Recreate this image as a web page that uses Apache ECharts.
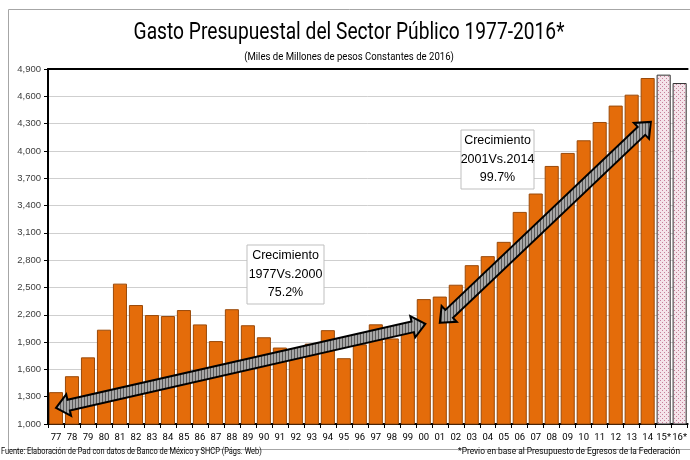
<!DOCTYPE html>
<html>
<head>
<meta charset="utf-8">
<script src="https://cdn.jsdelivr.net/npm/echarts@6/dist/echarts.min.js"></script>
<style>
  html, body { margin: 0; padding: 0; background: #fff; }
  #main { width: 690px; height: 460px; }
</style>
</head>
<body>
<div id="main"></div>
<script>
// años (últimos dos son estimados)
var years = ['77','78','79','80','81','82','83','84','85','86','87','88','89','90','91','92','93','94','95','96',
  '97','98','99','00','01','02','03','04','05','06','07','08','09','10','11','12','13','14','15*','16*'];
// miles de millones de pesos de 2016
var gasto = [1350,1525,1732,2036,2542,2307,2197,2186,2252,2094,1911,2261,2085,1953,1840,1780,1883,2031,1723,1875,
  2095,1940,2060,2372,2400,2530,2745,2844,3001,3330,3532,3835,3978,4117,4318,4498,4618,4801,4838,4746];
var previos = ['15*','16*'];
var yTicks = [1000, 4900, 300];

var textFont = 'Roboto, sans-serif';
var boxFont = '"Liberation Sans", Arial, sans-serif';

// patrón rosa para los años previstos
function dotPattern() {
  var c = document.createElement('canvas');
  c.width = 4; c.height = 4;
  var g = c.getContext('2d');
  g.fillStyle = '#f4e4ea'; g.fillRect(0, 0, 4, 4);
  g.fillStyle = '#c7809a';
  g.fillRect(0, 0, 1, 1); g.fillRect(2, 2, 1, 1);
  return c;
}
function stripePattern() {
  var c = document.createElement('canvas');
  c.width = 3; c.height = 3;
  var g = c.getContext('2d');
  g.fillStyle = '#a6a6a6'; g.fillRect(0, 0, 3, 3);
  g.fillStyle = '#5a5a5a'; g.fillRect(0, 0, 1, 3);
  return c;
}

var chart = echarts.init(document.getElementById('main'));

var barData = gasto.map(function (v, i) {
  if (previos.indexOf(years[i]) >= 0) {
    return { value: v, itemStyle: { color: { image: dotPattern(), repeat: 'repeat' }, borderColor: '#333', borderWidth: 1 } };
  }
  return v;
});

chart.setOption({
  animation: false,
  grid: { left: 48, right: 0, top: 69, bottom: 36 },
  xAxis: [{
    type: 'category',
    data: years,
    axisLine: { lineStyle: { color: '#000', width: 2 } },
    axisTick: { show: true, length: 4, lineStyle: { color: '#000' } },
    axisLabel: { color: '#000', fontSize: 9.5, fontFamily: textFont, margin: 9, interval: 0 }
  }, {
    type: 'category',
    position: 'top',
    data: years,
    axisLine: { lineStyle: { color: '#000', width: 2 } },
    axisTick: { show: false },
    axisLabel: { show: false }
  }],
  yAxis: {
    type: 'value',
    min: yTicks[0], max: yTicks[1], interval: yTicks[2],
    axisLine: { show: true, lineStyle: { color: '#000', width: 2 } },
    axisTick: { show: true, length: 4, lineStyle: { color: '#000' } },
    axisLabel: {
      color: '#404040', fontSize: 9.5, fontFamily: boxFont, margin: 7,
      formatter: function (v) { return v.toLocaleString('en-US'); }
    },
    splitLine: { lineStyle: { color: '#cfcfcf', width: 1 } }
  },
  series: [{
    type: 'bar',
    data: barData,
    barCategoryGap: '12%',
    itemStyle: { color: '#e46c0a', borderColor: '#9a4a0a', borderWidth: 1 }
  }]
});

// posición en píxeles con índice de categoría fraccionario
function toPx(p) {
  var i = Math.floor(p[0]), f = p[0] - i;
  var a = chart.convertToPixel({ gridIndex: 0 }, [i, p[1]]);
  var b = chart.convertToPixel({ gridIndex: 0 }, [i + 1, p[1]]);
  return [a[0] + (b[0] - a[0]) * f, a[1]];
}

// flecha doble gruesa entre dos puntos
function arrow(a, b) {
  var p0 = toPx(a), p1 = toPx(b);
  var dx = p1[0] - p0[0], dy = p1[1] - p0[1];
  var len = Math.sqrt(dx * dx + dy * dy);
  var ux = dx / len, uy = dy / len, nx = -uy, ny = ux;
  var w = 5.5, h = 11, L = 13;
  function pt(base, s, t) { return [base[0] + ux * s + nx * t, base[1] + uy * s + ny * t]; }
  var pts = [
    p0, pt(p0, L, h), pt(p0, L, w), pt(p1, -L, w), pt(p1, -L, h),
    p1, pt(p1, -L, -h), pt(p1, -L, -w), pt(p0, L, -w), pt(p0, L, -h)
  ];
  return {
    type: 'polygon', z: 100,
    shape: { points: pts },
    style: { fill: { image: stripePattern(), repeat: 'repeat' }, stroke: '#000', lineWidth: 2 }
  };
}

function box(x, y, w, h, lines) {
  return {
    type: 'group', x: x, y: y, z: 110,
    children: [{
      type: 'rect', shape: { x: 0, y: 0, width: w, height: h },
      style: { fill: '#fff', stroke: '#bfbfbf', lineWidth: 1 }
    }, {
      type: 'text', x: w / 2, y: h / 2,
      style: {
        text: lines.join('\n'), fill: '#000', font: '12.5px ' + boxFont,
        align: 'center', verticalAlign: 'middle', lineHeight: 18.5
      }
    }]
  };
}

// texto comprimido horizontalmente
function label(txt, x, y, size, align, sx) {
  return {
    type: 'text', x: x, y: y, scaleX: sx, z: 50,
    style: { text: txt, font: size + 'px ' + textFont, fill: '#000', align: align, verticalAlign: 'middle' }
  };
}

chart.setOption({
  graphic: [
    { type: 'rect', shape: { x: 8.5, y: 9.5, width: 700, height: 440 }, style: { fill: 'none', stroke: '#a6a6a6', lineWidth: 1 }, z: 1 },
    label('Gasto Presupuestal del Sector Público 1977-2016*', 349, 33, 24, 'center', 0.8),
    label('(Miles de Millones de pesos Constantes de 2016)', 349, 57, 11, 'center', 0.87),
    label('Fuente: Elaboración de Pad con datos de Banco de México y SHCP (Págs. Web)', 1, 452, 9.5, 'left', 0.78),
    label('*Previo en base al Presupuesto de Egresos de la Federación', 680, 452, 9.5, 'right', 0.88),
    arrow([0, 1176], [23.1, 2100]),
    arrow([24, 2111], [37.2, 4319]),
    box(247, 245, 77, 59, ['Crecimiento', '1977Vs.2000', '75.2%']),
    box(461, 130, 73, 59, ['Crecimiento', '2001Vs.2014', '99.7%'])
  ]
});
</script>
</body>
</html>
